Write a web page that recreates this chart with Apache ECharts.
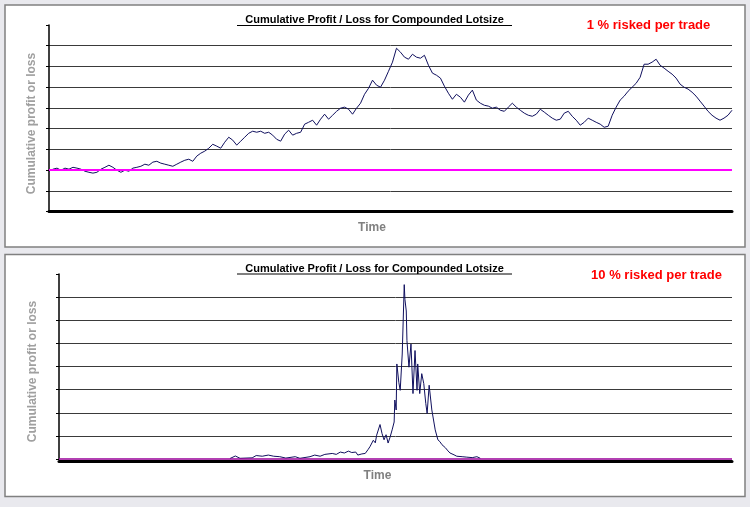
<!DOCTYPE html>
<html>
<head>
<meta charset="utf-8">
<script src="https://cdn.jsdelivr.net/npm/echarts@6/dist/echarts.min.js"></script>
<style>
html,body{margin:0;padding:0;background:#e9e9ee;}
#c{width:750px;height:507px;}
</style>
</head>
<body>
<div id="c"></div>
<script>
// Panel 1: 1 % risked per trade — cumulative profit (gridline units), evenly spaced in time
const profit1 = [
-0.05,0.05,0.10,0,0.10,0.05,0.14,0.10,0.05,-0.05,
-0.10,-0.14,-0.10,0.05,0.14,0.24,0.14,0,-0.10,0,
-0.05,0.10,0.14,0.19,0.29,0.24,0.39,0.43,0.34,0.29,
0.24,0.19,0.29,0.39,0.48,0.53,0.43,0.68,0.82,0.92,
1.06,1.25,1.16,1.06,1.35,1.59,1.45,1.21,1.40,1.59,
1.78,1.88,1.83,1.88,1.78,1.83,1.69,1.49,1.40,1.74,
1.93,1.69,1.78,1.83,2.22,2.31,2.41,2.17,2.46,2.70,
2.46,2.65,2.84,2.99,3.04,2.94,2.70,2.99,3.23,3.66,
3.95,4.34,4.10,4.00,4.34,4.77,5.21,5.88,5.69,5.45,
5.35,5.59,5.45,5.40,5.54,5.06,4.68,4.58,4.44,4.05,
3.71,3.42,3.66,3.52,3.28,3.62,3.86,3.38,3.23,3.13,
3.09,2.99,3.04,2.89,2.84,3.04,3.23,3.04,2.89,2.75,
2.65,2.60,2.70,2.94,2.80,2.65,2.51,2.41,2.46,2.75,
2.84,2.60,2.41,2.17,2.31,2.51,2.41,2.31,2.22,2.07,
2.12,2.65,3.04,3.38,3.57,3.81,4.00,4.19,4.48,5.11,
5.11,5.21,5.35,5.06,4.92,4.77,4.63,4.44,4.15,4.00,
3.91,3.76,3.57,3.33,3.09,2.84,2.65,2.51,2.41,2.51,
2.65,2.89
];
const time1 = profit1.map((_, i) => i);

// Panel 2: 10 % risked per trade — [trade number, cumulative profit]
const trades2 = [254,262,269,287,293,302,311,319,328,337,351,358,373,380,388,395,406,412,418,424,430,435,441,444,450,455,459,462,467,470,472,477,480,483,486,489,492,495,498,499,501,502,505,507,510,513,514,516,517,520,523,526,529,532,533,536,539,542,545,547,550,554,559,563,566,569,574,578,581,587,591,599,606,614,621,626];
const profit2 = [0.02,0.13,0.03,0.05,0.15,0.12,0.17,0.12,0.10,0.04,0.10,0.03,0.10,0.17,0.12,0.20,0.24,0.20,0.30,0.26,0.34,0.28,0.30,0.17,0.22,0.24,0.40,0.53,0.81,0.70,1.03,1.49,1.10,0.83,1.05,0.69,0.95,1.26,1.60,2.55,2.12,4.11,3.30,2.97,4.54,7.54,6.90,6.40,5.12,3.97,4.97,2.83,4.69,2.97,4.11,2.83,3.69,3.26,2.40,1.97,3.19,2.12,1.26,0.83,0.75,0.62,0.49,0.35,0.26,0.18,0.12,0.10,0.08,0.06,0.10,0.03];

const titleText = 'Cumulative Profit / Loss for Compounded Lotsize';
const riskLabels = ['1 % risked per trade', '10 % risked per trade'];
const yName = 'Cumulative profit or loss';
const xName = 'Time';

const FONT = '"Liberation Sans", Arial, sans-serif';
const chart = echarts.init(document.getElementById('c'), null, {renderer: 'canvas'});

function yAxisCfg(gridIndex, min, max) {
  return {
    type: 'value', gridIndex, min, max, interval: 1,
    axisLine: {show: true, lineStyle: {color: '#000', width: 1.5}},
    axisTick: {show: true, inside: false, length: 3, lineStyle: {color: '#000', width: 1}},
    axisLabel: {show: false},
    splitLine: {show: true, showMinLine: false, showMaxLine: false, lineStyle: {color: '#3a3a3a', width: 1}}
  };
}

chart.setOption({
  backgroundColor: '#e9e9ee',
  animation: false,
  graphic: [
    {type: 'rect', z: -10, shape: {x: 5, y: 5, width: 740, height: 242}, style: {fill: '#fff', stroke: '#808080', lineWidth: 1.5}},
    {type: 'rect', z: -10, shape: {x: 5, y: 254.5, width: 740, height: 242}, style: {fill: '#fff', stroke: '#808080', lineWidth: 1.5}},
    {type: 'text', z: 10, style: {text: titleText, x: 374.5, y: 20, align: 'center', verticalAlign: 'middle', font: 'bold 11px ' + FONT, fill: '#000'}},
    {type: 'line', z: 10, shape: {x1: 237, y1: 25.5, x2: 512, y2: 25.5}, style: {stroke: '#000', lineWidth: 1}},
    {type: 'text', z: 10, style: {text: titleText, x: 374.5, y: 268.5, align: 'center', verticalAlign: 'middle', font: 'bold 11px ' + FONT, fill: '#000'}},
    {type: 'line', z: 10, shape: {x1: 237, y1: 274, x2: 512, y2: 274}, style: {stroke: '#000', lineWidth: 1}},
    {type: 'text', z: 10, style: {text: riskLabels[0], x: 648.5, y: 25, align: 'center', verticalAlign: 'middle', font: 'bold 13px ' + FONT, fill: '#ff0000'}},
    {type: 'text', z: 10, style: {text: riskLabels[1], x: 656.5, y: 275, align: 'center', verticalAlign: 'middle', font: 'bold 13px ' + FONT, fill: '#ff0000'}},
    {type: 'text', z: 10, style: {text: xName, x: 372, y: 227.5, align: 'center', verticalAlign: 'middle', font: 'bold 12px ' + FONT, fill: '#808080'}},
    {type: 'text', z: 10, style: {text: xName, x: 377.5, y: 476, align: 'center', verticalAlign: 'middle', font: 'bold 12px ' + FONT, fill: '#808080'}},
    {type: 'text', z: 10, x: 32, y: 123.5, rotation: Math.PI / 2, style: {text: yName, x: 0, y: 0, align: 'center', verticalAlign: 'middle', font: 'bold 12px ' + FONT, fill: '#a0a0a0'}},
    {type: 'text', z: 10, x: 33, y: 371.5, rotation: Math.PI / 2, style: {text: yName, x: 0, y: 0, align: 'center', verticalAlign: 'middle', font: 'bold 12px ' + FONT, fill: '#a0a0a0'}}
  ],
  grid: [
    {left: 49, right: 18, top: 25, height: 186.7},
    {left: 59, right: 18, top: 274, height: 185}
  ],
  xAxis: [
    {type: 'category', gridIndex: 0, data: time1, boundaryGap: false,
     axisLine: {show: true, onZero: false, lineStyle: {color: '#000', width: 3}},
     axisTick: {show: false}, axisLabel: {show: false}, splitLine: {show: false}},
    {type: 'value', gridIndex: 1, min: 0, max: 1000, offset: 2.5,
     axisLine: {show: true, onZero: false, lineStyle: {color: '#000', width: 3}},
     axisTick: {show: false}, axisLabel: {show: false}, splitLine: {show: false}}
  ],
  yAxis: [yAxisCfg(0, -2, 7), yAxisCfg(1, 0, 8)],
  series: [
    {type: 'line', xAxisIndex: 0, yAxisIndex: 0, data: profit1, showSymbol: false, symbol: 'none',
     lineStyle: {color: '#10105e', width: 1}, z: 3,
     markLine: {silent: true, symbol: 'none', label: {show: false},
       lineStyle: {color: '#ff00ff', width: 2, type: 'solid'}, data: [{yAxis: 0}]}},
    {type: 'line', xAxisIndex: 1, yAxisIndex: 1, data: trades2.map((t, i) => [t, profit2[i]]), showSymbol: false, symbol: 'none',
     lineStyle: {color: '#10105e', width: 1}, z: 3,
     markLine: {silent: true, symbol: 'none', label: {show: false},
       lineStyle: {color: '#990099', width: 1.5, type: 'solid'}, data: [{yAxis: 0}]}}
  ]
});
</script>
</body>
</html>
